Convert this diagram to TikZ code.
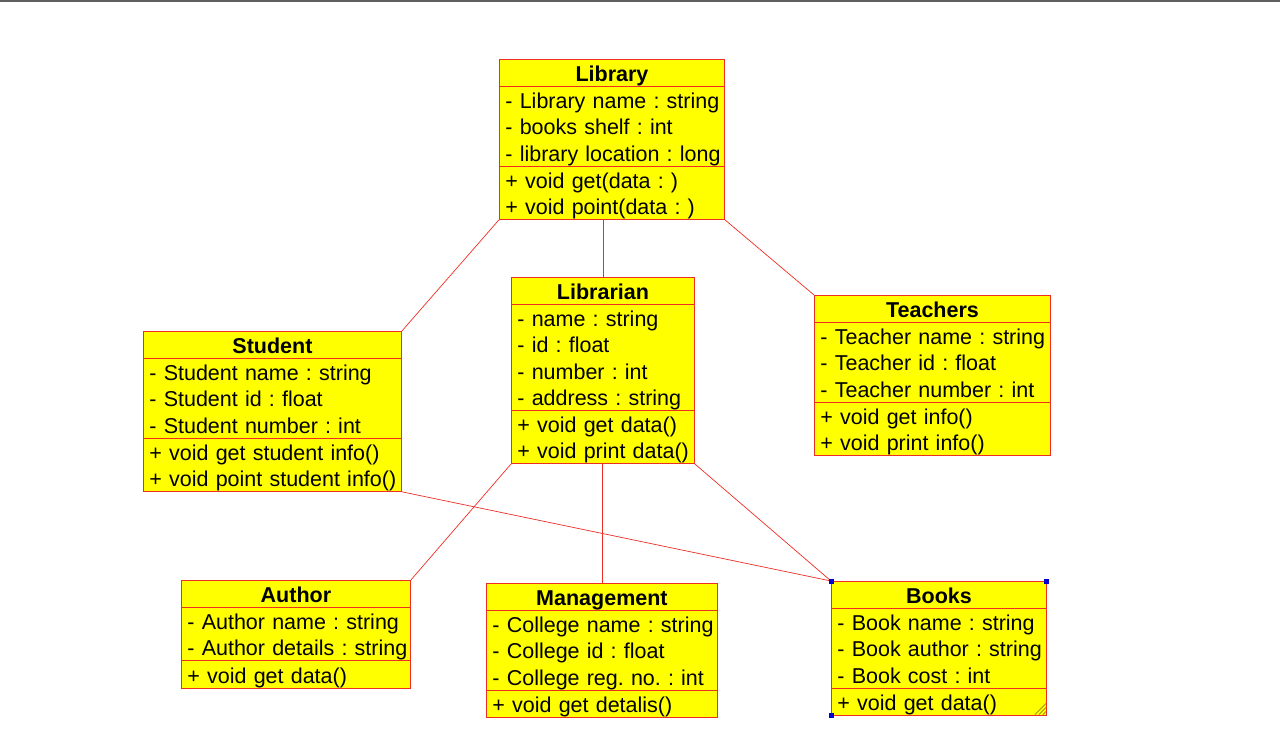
\documentclass[tikz,border=0pt]{standalone}
\usepackage{fontspec}
\setmainfont{Liberation Sans}
\usetikzlibrary{shapes.multipart, positioning}
\definecolor{umlyellow}{RGB}{255,255,0}
\definecolor{umlred}{RGB}{238,45,35}
\definecolor{framegray}{RGB}{96,96,96}
\tikzstyle{umlclass} = [draw=umlred, fill=umlyellow, rectangle split,
    rectangle split parts=3, anchor=north west, inner xsep=6pt, inner ysep=0pt,
    align=left, line width=0.9pt, font=\fontsize{21.5}{26.2}\selectfont\frenchspacing]
\tikzstyle{link} = [draw=umlred, line width=0.7pt]
\tikzstyle{handle} = [fill=blue!80!black]
\newcommand{\rowline}[1]{\mbox{\rule[-4.5pt]{0pt}{26.2pt}#1}}
\newcommand{\rowtitle}[1]{\makebox[\linewidth]{\rowline{\textbf{#1}}}}

\begin{document}
\begin{tikzpicture}[x=1pt, y=-1pt]
            \useasboundingbox (0,0) rectangle (1280,739);
            \draw[framegray, line width=2pt] (0,1) -- (1280,1);

            \node[umlclass, name=library, text width=213pt] at (499,59) {\rowtitle{Library}
                \nodepart{two}\rowline{- Library name : string}\\
                \rowline{- books shelf : int}\\
                \rowline{- library location : long}
                \nodepart{three}\rowline{+ void get(data : )}\\
                \rowline{+ void point(data : )}};
            \node[umlclass, name=librarian, text width=171pt] at (511,277) {\rowtitle{Librarian}
                \nodepart{two}\rowline{- name : string}\\
                \rowline{- id : float}\\
                \rowline{- number : int}\\
                \rowline{- address : string}
                \nodepart{three}\rowline{+ void get data()}\\
                \rowline{+ void print data()}};
            \node[umlclass, name=student, text width=246pt] at (143,331) {\rowtitle{Student}
                \nodepart{two}\rowline{- Student name : string}\\
                \rowline{- Student id : float}\\
                \rowline{- Student number : int}
                \nodepart{three}\rowline{+ void get student info()}\\
                \rowline{+ void point student info()}};
            \node[umlclass, name=teachers, text width=224pt] at (814,295) {\rowtitle{Teachers}
                \nodepart{two}\rowline{- Teacher name : string}\\
                \rowline{- Teacher id : float}\\
                \rowline{- Teacher number : int}
                \nodepart{three}\rowline{+ void get info()}\\
                \rowline{+ void print info()}};
            \node[umlclass, name=author, text width=217pt] at (181,580) {\rowtitle{Author}
                \nodepart{two}\rowline{- Author name : string}\\
                \rowline{- Author details : string}
                \nodepart{three}\rowline{+ void get data()}};
            \node[umlclass, name=management, text width=219pt] at (486,583) {\rowtitle{Management}
                \nodepart{two}\rowline{- College name : string}\\
                \rowline{- College id : float}\\
                \rowline{- College reg. no. : int}
                \nodepart{three}\rowline{+ void get detalis()}};
            \node[umlclass, name=books, text width=203pt] at (831,581) {\rowtitle{Books}
                \nodepart{two}\rowline{- Book name : string}\\
                \rowline{- Book author : string}\\
                \rowline{- Book cost : int}
                \nodepart{three}\rowline{+ void get data()}};

            \draw[link] (library.south west) -- (student.north east);
            \draw[link] (librarian.north |- library.south) -- (librarian.north);
            \draw[link] (library.south east) -- (teachers.north west);
            \draw[link] (student.south east) -- (books.north west);
            \draw[link] (librarian.south west) -- (author.north east);
            \draw[link] (management.north |- librarian.south) -- (management.north);
            \draw[link] (librarian.south east) -- (books.north west);

            % selection marks on Books
            \fill[handle] ([shift={(-2.5,-2.5)}]books.north west) rectangle +(5,5);
            \fill[handle] ([shift={(-2.5,-2.5)}]books.north east) rectangle +(5,5);
            \fill[handle] ([shift={(-2.5,-2.5)}]books.south west) rectangle +(5,5);
            \foreach \d in {4,8,12}
                \draw[olive!70!black, line width=0.6pt] ([shift={(-\d,-1)}]books.south east) -- ([shift={(-1,-\d)}]books.south east);
        \end{tikzpicture}
\end{document}
